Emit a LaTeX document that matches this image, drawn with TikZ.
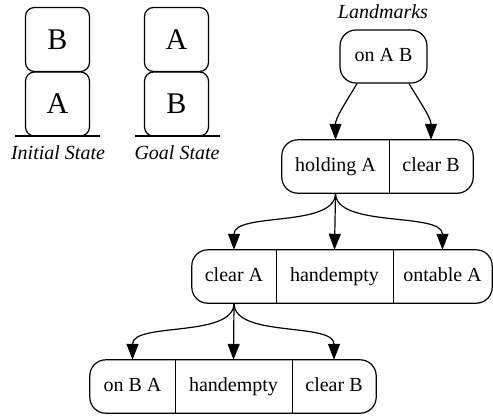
\documentclass[tikz,border=0pt]{standalone}
\usepackage{fontspec}
\setmainfont{Liberation Serif}
\newfontfamily\timesfont{Liberation Serif}
\usetikzlibrary{arrows.meta,fit}
\tikzset{
  blockbox/.style={draw, line width=1.2pt, rounded corners=9pt, minimum width=64pt, minimum height=64pt, inner sep=0pt, font=\timesfont\fontsize{30}{36}\selectfont},
  ground/.style={line width=1.2pt},
  caption/.style={font=\timesfont\fontsize{20}{24}\selectfont\itshape, inner sep=0pt},
  field/.style={minimum height=53pt, inner sep=0pt, text height=13.5pt, text depth=4.5pt, font=\timesfont\fontsize{20}{24}\selectfont},
  record/.style={draw, line width=1.2pt, rounded corners=16pt, inner sep=0pt},
  divider/.style={line width=1.2pt},
  link/.style={line width=1.2pt, -{Triangle[length=16pt,width=12pt]}},
}
\begin{document}
\begin{tikzpicture}[x=1pt,y=-1pt]
\useasboundingbox (0,0) rectangle (493,416);
% Initial state
\node[blockbox] (iB) at (57.5,39.5) {B};
\node[blockbox] (iA) at (57.5,104) {A};
\coordinate (ig1) at (15,136);
\coordinate (ig2) at (100,136);
\draw[ground] (ig1) -- (ig2);
\node[caption] (icap) at (58,153) {Initial State};
% Goal state
\node[blockbox] (gA) at (176.5,39.5) {A};
\node[blockbox] (gB) at (176.5,104) {B};
\coordinate (gg1) at (135,136);
\coordinate (gg2) at (220,136);
\draw[ground] (gg1) -- (gg2);
\node[caption] (gcap) at (177,153) {Goal State};
% Landmarks
\node[caption] (lcap) at (383,12) {Landmarks};
\node[record, field, minimum width=87pt] (onab) at (383.5,56.5) {on A B};
% level 2
\node[field, minimum width=107pt] (holdA) at (335.5,166.5) {holding A};
\node[field, minimum width=84pt] (clrB) at (431,166.5) {clear B};
\node[record, fit=(holdA)(clrB)] (r2) {};
\draw[divider] (holdA.north east) -- (holdA.south east);
% level 3
\node[field, minimum width=84pt] (clrA) at (234,276.5) {clear A};
\node[field, minimum width=117pt] (hempA) at (334.5,276.5) {handempty};
\node[field, minimum width=99pt] (ontA) at (442.5,276.5) {ontable A};
\node[record, fit=(clrA)(ontA)] (r3) {};
\draw[divider] (clrA.north east) -- (clrA.south east);
\draw[divider] (hempA.north east) -- (hempA.south east);
% level 4
\node[field, minimum width=85pt] (onBA) at (132.5,386.5) {on B A};
\node[field, minimum width=117pt] (hempB) at (233.5,386.5) {handempty};
\node[field, minimum width=84pt] (clrB2) at (334,386.5) {clear B};
\node[record, fit=(onBA)(clrB2)] (r4) {};
\draw[divider] (onBA.north east) -- (onBA.south east);
\draw[divider] (hempB.north east) -- (hempB.south east);
% connectors
\draw[link] ([xshift=-26.5pt]onab.south) .. controls +(-12,20) and +(0,-22) .. (holdA.north);
\draw[link] ([xshift=25.5pt]onab.south) .. controls +(12,20) and +(0,-22) .. (clrB.north);
\draw[link] (holdA.south) .. controls +(0,35) and +(0,-38) .. (clrA.north);
\draw[link] (holdA.south) -- (hempA.north);
\draw[link] (holdA.south) .. controls +(0,35) and +(0,-38) .. (ontA.north);
\draw[link] (clrA.south) .. controls +(0,35) and +(0,-38) .. (onBA.north);
\draw[link] (clrA.south) -- (hempB.north);
\draw[link] (clrA.south) .. controls +(0,35) and +(0,-38) .. (clrB2.north);
\end{tikzpicture}
\end{document}
